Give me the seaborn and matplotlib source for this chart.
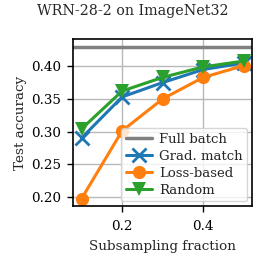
import matplotlib
matplotlib.use("Agg")
import matplotlib.pyplot as plt
import seaborn as sns
import pandas as pd

fractions = [0.1, 0.2, 0.3, 0.4, 0.5]
grad_match = [0.290, 0.353, 0.375, 0.395, 0.405]
loss_based = [0.197, 0.301, 0.350, 0.383, 0.401]
random_sel = [0.304, 0.362, 0.383, 0.399, 0.408]
full_batch = 0.430

sns.set_theme(style="whitegrid")
plt.rcParams['font.family'] = ['DejaVu Serif']
plt.rcParams.update({
    'font.size': 9.7, 'axes.titlesize': 10.3, 'axes.labelsize': 9.7,
    'xtick.labelsize': 9.7, 'ytick.labelsize': 9.7, 'legend.fontsize': 9.5,
    'axes.edgecolor': 'black', 'axes.linewidth': 1.2,
    'grid.color': '#b8b8b8', 'grid.linewidth': 1.0,
    'xtick.bottom': True, 'ytick.left': True,
    'xtick.major.size': 4, 'ytick.major.size': 4,
    'xtick.major.width': 1.0, 'ytick.major.width': 1.0,
    'xtick.major.pad': 6, 'ytick.major.pad': 5,
    'xtick.color': 'black', 'ytick.color': 'black',
})

fig, ax = plt.subplots(figsize=(2.65, 2.65), dpi=100)

ax.axhline(full_batch, color='#808080', lw=2.5, label='Full batch')
df = pd.DataFrame({'x': fractions * 3,
                   'y': grad_match + loss_based + random_sel,
                   'method': ['Grad. match'] * 5 + ['Loss-based'] * 5 + ['Random'] * 5})
colors = {'Grad. match': '#1f77b4', 'Loss-based': '#ff7f0e', 'Random': '#2ca02c'}
markers = {'Grad. match': 'x', 'Loss-based': 'o', 'Random': 'v'}
for m in ['Grad. match', 'Loss-based', 'Random']:
    sub = df[df.method == m]
    sns.lineplot(data=sub, x='x', y='y', ax=ax, color=colors[m], marker=markers[m],
                 markersize=9.5, lw=2.2, label=m, markeredgewidth=2 if m == 'Grad. match' else 0,
                 markeredgecolor=colors[m])

ax.set_xticks([0.2, 0.4])
ax.set_xticklabels(['0.2', '0.4'])
ax.set_yticks([0.20, 0.25, 0.30, 0.35, 0.40])
ax.set_yticklabels(['0.20', '0.25', '0.30', '0.35', '0.40'])
ax.set_xlim(0.08, 0.52)
ax.set_ylim(0.186, 0.441)
ax.set_xlabel('Subsampling fraction', labelpad=5)
ax.set_ylabel('Test accuracy', labelpad=3)
fig.suptitle('WRN-28-2 on ImageNet32', x=0.5, y=0.985, fontsize=10.3)
ax.legend(loc='lower right', frameon=True, borderaxespad=0.35, handlelength=2.0,
          labelspacing=0.3, borderpad=0.35, handletextpad=0.55)

fig.subplots_adjust(left=0.277, right=0.951, bottom=0.223, top=0.851)
fig.savefig('out.png', dpi=100)
